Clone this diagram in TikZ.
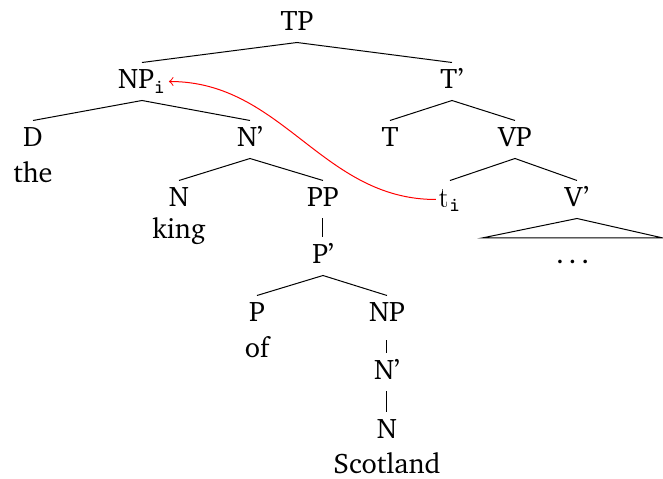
\documentclass[tikz,border=0pt]{standalone}
\usepackage[T1]{fontenc}
\usepackage{charter}
\begin{document}
\begin{tikzpicture}[x=0.4pt,y=-0.4pt,
  every node/.style={font=\fontsize{11.3}{13.5}\selectfont},
  cat/.style={anchor=base, inner xsep=1pt, inner ysep=4pt, text height=6.4pt, text depth=0.4pt},
  word/.style={anchor=base, inner sep=0pt},
  edge/.style={draw=black, line width=0.4pt},
  mv/.style={draw=red, line width=0.4pt, ->}]
\useasboundingbox (0,0) rectangle (663,479);
% nodes
\node[cat] (TP) at (297,31) {TP};
\node[cat] (NPi) at (142,89) {NP$_{\mathtt{i}}$};
\node[cat] (Tb) at (452,89) {T'};
\node[cat] (D) at (33,147) {D};
\node[word] (the) at (33,183) {the};
\node[cat] (Nb) at (250,147) {N'};
\node[cat] (N) at (179,207) {N};
\node[word] (king) at (179,239) {king};
\node[cat] (PP) at (323,207) {PP};
\node[cat] (Pb) at (323,264) {P'};
\node[cat] (P) at (257,322) {P};
\node[word] (of) at (257,358) {of};
\node[cat] (NP) at (387,322) {NP};
\node[cat] (Nb2) at (387,380) {N'};
\node[cat] (N2) at (387,439) {N};
\node[word] (scot) at (387,474) {Scotland};
\node[cat] (T) at (390,147) {T};
\node[cat] (VP) at (515,147) {VP};
\node[cat] (ti) at (450,207) {\texttt{t}$_{\mathtt{i}}$};
\node[cat] (Vb) at (577,207) {V'};
\node[word] (dots) at (575,264) {\ldots};
\coordinate (tl) at (482,238);
\coordinate (tr) at (663,238);
% edges
\draw[edge] (NPi.north) -- (TP.south) -- (Tb.north);
\draw[edge] (D.north) -- (NPi.south) -- (Nb.north);
\draw[edge] (N.north) -- (Nb.south) -- (PP.north);
\draw[edge] (PP.south) -- (Pb.north);
\draw[edge] (P.north) -- (Pb.south) -- (NP.north);
\draw[edge] ([yshift=-2.8pt]NP.south) -- (Nb2.north);
\draw[edge] (Nb2.south) -- (N2.north);
\draw[edge] (T.north) -- (Tb.south) -- (VP.north);
\draw[edge] (ti.north) -- (VP.south) -- (Vb.north);
\draw[edge] (Vb.south) -- (tl) -- (tr) -- cycle;
% movement
\draw[mv] (ti.west) to[out=180,in=0] (NPi.east);
\end{tikzpicture}
\end{document}
